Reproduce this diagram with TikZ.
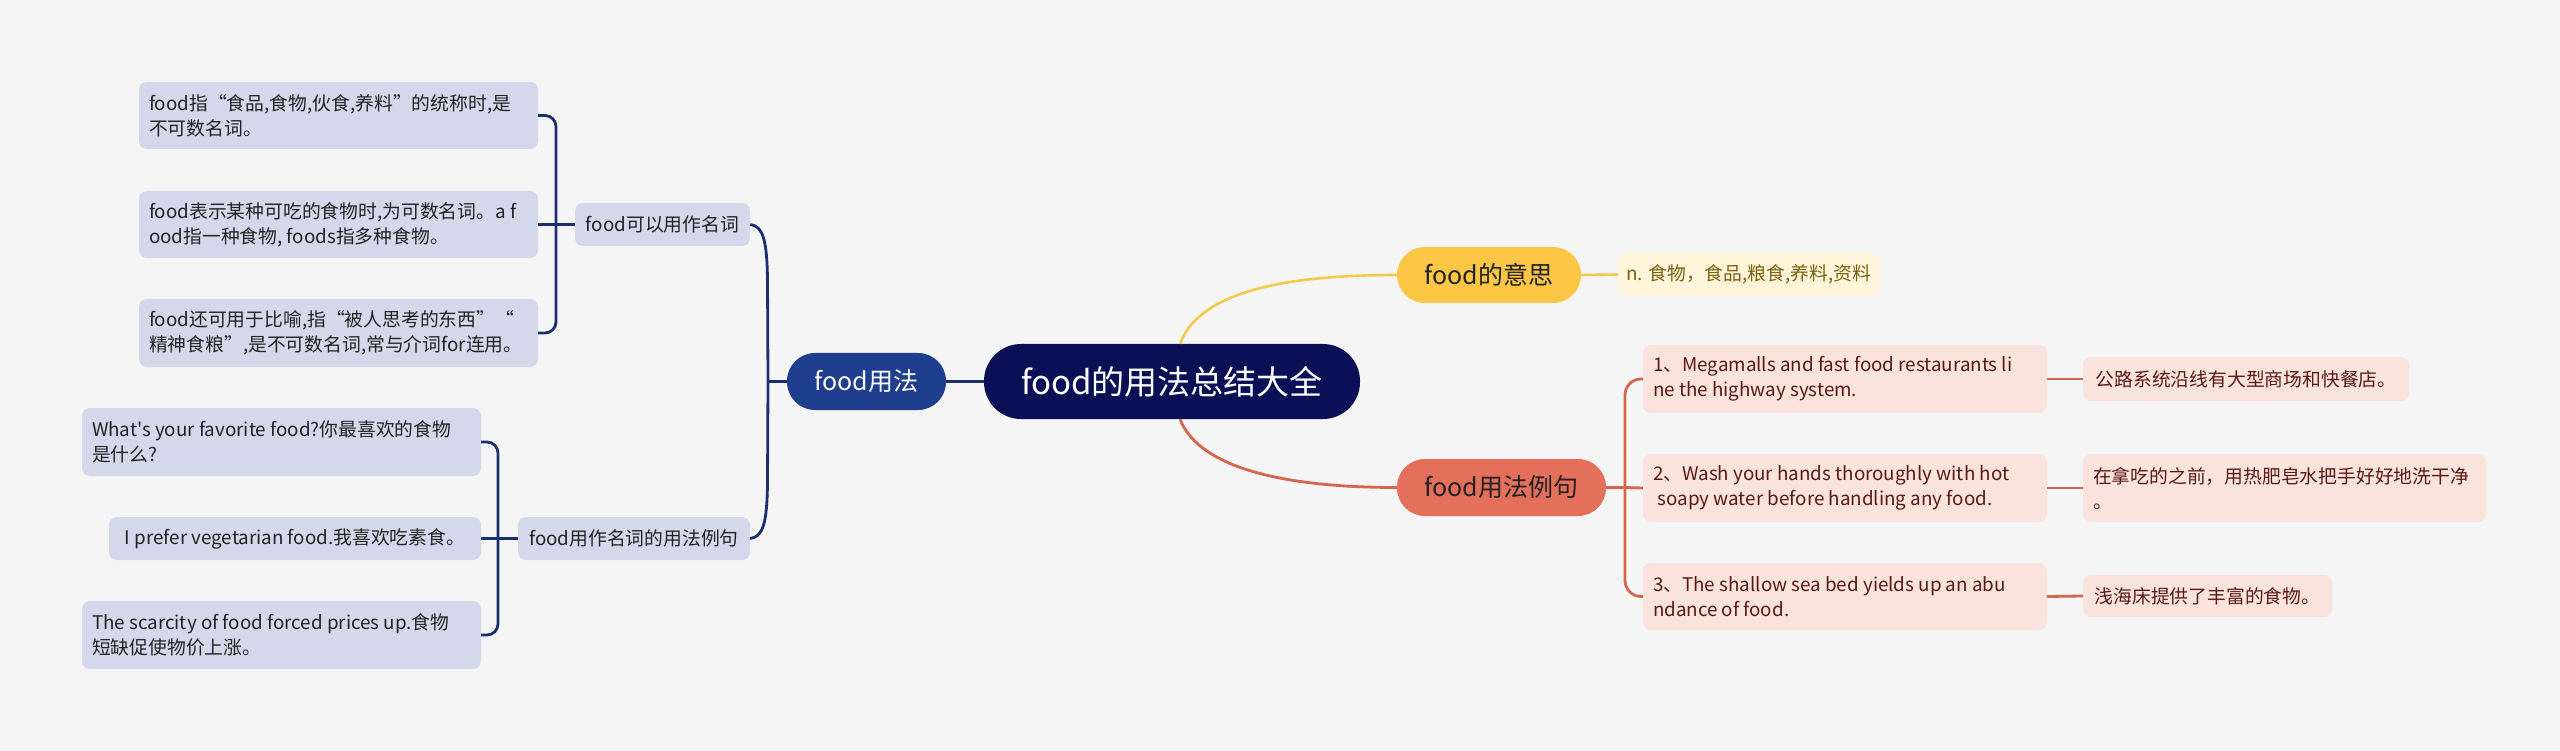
\documentclass[tikz,border=0pt]{standalone}
\usepackage{fontspec}
\setmainfont{Noto Sans CJK SC}
\newfontfamily\plaincjk{Noto Sans CJK SC}
\definecolor{cBg}{HTML}{F5F5F5}
\definecolor{cRoot}{HTML}{0B1056}
\definecolor{cBlue}{HTML}{1F3F8E}
\definecolor{cLine}{HTML}{1B2F70}
\definecolor{cLbox}{HTML}{D3D9EA}
\definecolor{cDark}{HTML}{222222}
\definecolor{cYel}{HTML}{FDC644}
\definecolor{cYelLine}{HTML}{F5C94E}
\definecolor{cMean}{HTML}{FEF5DB}
\definecolor{cMeanTxt}{HTML}{7D6010}
\definecolor{cRed}{HTML}{E4705B}
\definecolor{cRedLine}{HTML}{D6654F}
\definecolor{cPink}{HTML}{FAE3DD}
\definecolor{cPinkTxt}{HTML}{5A1A12}
\begin{document}
\begin{tikzpicture}[x=1pt,y=-1pt,
  rootn/.style={fill=cRoot, text=white, rounded corners=37pt, inner sep=0pt,
    minimum width=376pt, minimum height=75pt, font=\fontsize{33}{38}\selectfont},
  pill/.style={rounded corners=28pt, inner sep=0pt, minimum height=57pt,
    font=\fontsize{25}{30}\selectfont},
  smallbox/.style={rounded corners=8pt, inner sep=0pt, minimum height=43pt,
    font=\fontsize{18.8}{25}\selectfont},
  bigbox/.style={rounded corners=8pt, inner sep=0pt, minimum height=67pt},
  btxt/.style={inner sep=0pt, anchor=west, align=left, font=\fontsize{18.8}{25}\selectfont},
  lconn/.style={draw=cLine, line width=2.8pt},
  yconn/.style={draw=cYelLine, line width=2.6pt},
  rconn/.style={draw=cRedLine, line width=2.8pt}]
\useasboundingbox[fill=cBg] (0,0) rectangle (2560,751);

% root and main branches
\node[rootn] (root) at (1172,381.5) {food的用法总结大全};
\node[pill, fill=cBlue, text=white, minimum width=159pt] (fy) at (866.5,381.5) {food用法};
\node[pill, fill=cYel, text=cDark, minimum width=184pt, minimum height=56pt] (m1) at (1489,275) {food的意思};
\node[pill, fill=cRed, text=cDark, minimum width=209pt] (m2) at (1501.5,487.5) {food用法例句};

% left level 2
\node[smallbox, fill=cLbox, text=cDark, minimum width=175pt] (k1) at (662.5,224.5) {food可以用作名词};
\node[smallbox, fill=cLbox, text=cDark, minimum width=232pt] (k2) at (634,538.5) {food用作名词的用法例句};

% left leaves, upper group
\node[bigbox, fill=cLbox, minimum width=399pt] (b1) at (338.5,115.5) {};
\node[btxt, text=cDark] (b1t) at ([xshift=10pt]b1.west) {food指“食品,食物,伙食,养料”的统称时,是\\不可数名词。};
\node[bigbox, fill=cLbox, minimum width=399pt] (b2) at (338.5,224.5) {};
\node[btxt, text=cDark] (b2t) at ([xshift=10pt]b2.west) {food表示某种可吃的食物时,为可数名词。a f\\ood指一种食物, foods指多种食物。};
\node[bigbox, fill=cLbox, minimum width=399pt, minimum height=68pt] (b3) at (338.5,333) {};
\node[btxt, text=cDark] (b3t) at ([xshift=10pt]b3.west) {food还可用于比喻,指“被人思考的东西”“\\精神食粮”,是不可数名词,常与介词for连用。};

% left leaves, lower group
\node[bigbox, fill=cLbox, minimum width=399pt, minimum height=68pt] (c1) at (281.5,442) {};
\node[btxt, text=cDark] (c1t) at ([xshift=10pt]c1.west) {{\plaincjk What's} your favorite food?你最喜欢的食物\\是什么?};
\node[smallbox, fill=cLbox, text=cDark, minimum width=372pt] (c2) at (295,538.5) {I prefer vegetarian food.我喜欢吃素食。};
\node[bigbox, fill=cLbox, minimum width=399pt, minimum height=68pt] (c3) at (281.5,635) {};
\node[btxt, text=cDark] (c3t) at ([xshift=10pt]c3.west) {The scarcity of food forced prices up.食物\\短缺促使物价上涨。};

% right: meaning
\node[smallbox, fill=cMean, text=cMeanTxt, minimum width=261pt] (mean) at (1748.5,274.5) {n. 食物，食品,粮食,养料,资料};

% right: examples
\node[bigbox, fill=cPink, minimum width=404pt, minimum height=68pt] (e1) at (1845,379) {};
\node[btxt, text=cPinkTxt] (e1t) at ([xshift=10pt]e1.west) {1、Megamalls and fast food restaurants li\\ne the highway system.};
\node[bigbox, fill=cPink, minimum width=404pt, minimum height=68pt] (e2) at (1845,488) {};
\node[btxt, text=cPinkTxt] (e2t) at ([xshift=10pt]e2.west) {2、Wash your hands thoroughly with hot\\\hspace*{0.25em}soapy water before handling any food.};
\node[bigbox, fill=cPink, minimum width=404pt] (e3) at (1845,596.5) {};
\node[btxt, text=cPinkTxt] (e3t) at ([xshift=10pt]e3.west) {3、The shallow sea bed yields up an abu\\ndance of food.};

\node[smallbox, fill=cPink, text=cPinkTxt, minimum width=326pt, minimum height=44pt] (t1) at (2246,379) {公路系统沿线有大型商场和快餐店。};
\node[bigbox, fill=cPink, minimum width=403pt, minimum height=68pt] (t2) at (2284.5,488) {};
\node[btxt, text=cPinkTxt] (t2t) at ([xshift=10pt]t2.west) {在拿吃的之前，用热肥皂水把手好好地洗干净\\。};
\node[smallbox, fill=cPink, text=cPinkTxt, minimum width=249pt, minimum height=42pt] (t3) at (2207.5,596) {浅海床提供了丰富的食物。};

% junction coordinates
\coordinate (j1) at (768,381.5);
\coordinate (j2) at (556,224.5);
\coordinate (j3) at (498,538.5);
\coordinate (j4) at (1625,487.5);

% connectors: left
\draw[lconn] (root.west) -- (fy.east);
\draw[lconn] (fy.west) -- (j1);
\draw[lconn] (k1.east) .. controls (763,226) and (767,240) .. (767.5,280) -- (j1);
\draw[lconn] (k2.east) .. controls (763,537) and (767,523) .. (767.5,483) -- (j1);
\draw[lconn] (k1.west) -- (j2);
\draw[lconn] (b2.east) -- (j2);
\draw[lconn, rounded corners=11pt] (b1.east) -- (556,115.5) -- (556,333) -- (b3.east);
\draw[lconn] (k2.west) -- (j3);
\draw[lconn] (c2.east) -- (j3);
\draw[lconn, rounded corners=11pt] (c1.east) -- (498,442) -- (498,635) -- (c3.east);

% connectors: right
\draw[yconn] ([xshift=8pt]root.north) .. controls (1200,290) and (1290,275) .. (m1.west);
\draw[yconn] (m1.east) -- (mean.west);
\draw[rconn] ([xshift=8pt]root.south) .. controls (1200,470) and (1290,487.5) .. (m2.west);
\draw[rconn] (m2.east) -- (j4);
\draw[rconn] (j4) -- (e2.west);
\draw[rconn, rounded corners=16pt] (e1.west) -- (1625,379) -- (1625,596.5) -- (e3.west);
\draw[rconn] (e1.east) -- (t1.west);
\draw[rconn] (e2.east) -- (t2.west);
\draw[rconn] (e3.east) -- (t3.west);
\end{tikzpicture}
\end{document}
